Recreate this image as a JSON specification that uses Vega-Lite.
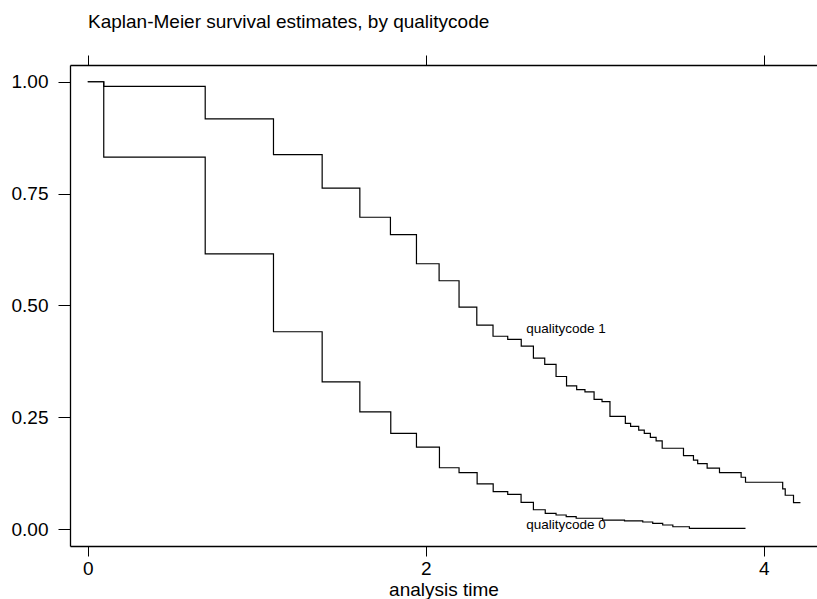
{
  "$schema": "https://vega.github.io/schema/vega-lite/v6.json",
  "width": 747,
  "height": 481,
  "autosize": {"type": "none"},
  "padding": {"left": 70, "top": 65, "right": 0, "bottom": 53},
  "background": "white",
  "config": {
    "view": {"stroke": null},
    "font": "Liberation Sans",
    "axis": {
      "grid": false,
      "domainColor": "#000000",
      "domainWidth": 1.3,
      "tickColor": "#000000",
      "tickWidth": 1,
      "labelColor": "#000000",
      "labelFont": "Liberation Sans",
      "labelFontSize": 19,
      "titleFont": "Liberation Sans",
      "titleFontSize": 19,
      "titleFontWeight": "normal",
      "titleColor": "#000000"
    }
  },
  "title": {
    "text": "Kaplan-Meier survival estimates, by qualitycode",
    "anchor": "start",
    "frame": "group",
    "font": "Liberation Sans",
    "fontSize": 19,
    "fontWeight": "normal",
    "color": "#000000",
    "dx": 18,
    "offset": 23
  },
  "datasets": {
    "km": [
      {"group": "qualitycode 0", "t": 0, "S": 1},
      {"group": "qualitycode 0", "t": 0.0947, "S": 0.8315},
      {"group": "qualitycode 0", "t": 0.695, "S": 0.615},
      {"group": "qualitycode 0", "t": 1.099, "S": 0.441},
      {"group": "qualitycode 0", "t": 1.387, "S": 0.329},
      {"group": "qualitycode 0", "t": 1.61, "S": 0.262},
      {"group": "qualitycode 0", "t": 1.793, "S": 0.214},
      {"group": "qualitycode 0", "t": 1.945, "S": 0.183},
      {"group": "qualitycode 0", "t": 2.081, "S": 0.137},
      {"group": "qualitycode 0", "t": 2.197, "S": 0.126},
      {"group": "qualitycode 0", "t": 2.304, "S": 0.1007},
      {"group": "qualitycode 0", "t": 2.399, "S": 0.0835},
      {"group": "qualitycode 0", "t": 2.485, "S": 0.0776},
      {"group": "qualitycode 0", "t": 2.564, "S": 0.0597},
      {"group": "qualitycode 0", "t": 2.637, "S": 0.043},
      {"group": "qualitycode 0", "t": 2.707, "S": 0.035},
      {"group": "qualitycode 0", "t": 2.771, "S": 0.0313},
      {"group": "qualitycode 0", "t": 2.831, "S": 0.0275},
      {"group": "qualitycode 0", "t": 2.89, "S": 0.024},
      {"group": "qualitycode 0", "t": 3.047, "S": 0.02},
      {"group": "qualitycode 0", "t": 3.176, "S": 0.018},
      {"group": "qualitycode 0", "t": 3.284, "S": 0.0157},
      {"group": "qualitycode 0", "t": 3.343, "S": 0.0128},
      {"group": "qualitycode 0", "t": 3.402, "S": 0.009},
      {"group": "qualitycode 0", "t": 3.462, "S": 0.005},
      {"group": "qualitycode 0", "t": 3.56, "S": 0.0016},
      {"group": "qualitycode 0", "t": 3.892, "S": 0.0016},
      {"group": "qualitycode 1", "t": 0, "S": 1},
      {"group": "qualitycode 1", "t": 0.0947, "S": 0.9895},
      {"group": "qualitycode 1", "t": 0.695, "S": 0.917},
      {"group": "qualitycode 1", "t": 1.099, "S": 0.837},
      {"group": "qualitycode 1", "t": 1.387, "S": 0.762},
      {"group": "qualitycode 1", "t": 1.61, "S": 0.697},
      {"group": "qualitycode 1", "t": 1.791, "S": 0.658},
      {"group": "qualitycode 1", "t": 1.945, "S": 0.593},
      {"group": "qualitycode 1", "t": 2.079, "S": 0.555},
      {"group": "qualitycode 1", "t": 2.197, "S": 0.496},
      {"group": "qualitycode 1", "t": 2.302, "S": 0.456},
      {"group": "qualitycode 1", "t": 2.398, "S": 0.431},
      {"group": "qualitycode 1", "t": 2.485, "S": 0.424},
      {"group": "qualitycode 1", "t": 2.565, "S": 0.409},
      {"group": "qualitycode 1", "t": 2.637, "S": 0.382},
      {"group": "qualitycode 1", "t": 2.704, "S": 0.368},
      {"group": "qualitycode 1", "t": 2.771, "S": 0.341},
      {"group": "qualitycode 1", "t": 2.833, "S": 0.32},
      {"group": "qualitycode 1", "t": 2.893, "S": 0.3115},
      {"group": "qualitycode 1", "t": 2.942, "S": 0.3065},
      {"group": "qualitycode 1", "t": 2.996, "S": 0.29},
      {"group": "qualitycode 1", "t": 3.043, "S": 0.285},
      {"group": "qualitycode 1", "t": 3.09, "S": 0.252},
      {"group": "qualitycode 1", "t": 3.181, "S": 0.236},
      {"group": "qualitycode 1", "t": 3.212, "S": 0.2295},
      {"group": "qualitycode 1", "t": 3.26, "S": 0.221},
      {"group": "qualitycode 1", "t": 3.293, "S": 0.214},
      {"group": "qualitycode 1", "t": 3.329, "S": 0.205},
      {"group": "qualitycode 1", "t": 3.363, "S": 0.197},
      {"group": "qualitycode 1", "t": 3.399, "S": 0.1805},
      {"group": "qualitycode 1", "t": 3.525, "S": 0.164},
      {"group": "qualitycode 1", "t": 3.584, "S": 0.154},
      {"group": "qualitycode 1", "t": 3.609, "S": 0.146},
      {"group": "qualitycode 1", "t": 3.665, "S": 0.136},
      {"group": "qualitycode 1", "t": 3.738, "S": 0.126},
      {"group": "qualitycode 1", "t": 3.866, "S": 0.1157},
      {"group": "qualitycode 1", "t": 3.892, "S": 0.1045},
      {"group": "qualitycode 1", "t": 4.112, "S": 0.0895},
      {"group": "qualitycode 1", "t": 4.127, "S": 0.0755},
      {"group": "qualitycode 1", "t": 4.176, "S": 0.059},
      {"group": "qualitycode 1", "t": 4.217, "S": 0.059}
    ],
    "labels": [
      {"label": "qualitycode 1", "t": 2.594, "S": 0.4385},
      {"label": "qualitycode 0", "t": 2.594, "S": 0.001}
    ]
  },
  "layer": [
    {
      "data": {"name": "km"},
      "mark": {"type": "line", "interpolate": "step-after", "color": "#000000", "strokeWidth": 1.2},
      "encoding": {
        "x": {
          "field": "t", "type": "quantitative",
          "scale": {"domain": [-0.105, 4.315], "nice": false, "zero": false},
          "axis": {"orient": "bottom", "values": [0, 2, 4], "title": "analysis time", "tickSize": 10, "labelPadding": 3, "titlePadding": 2, "labelFlush": false}
        },
        "y": {
          "field": "S", "type": "quantitative",
          "scale": {"domain": [-0.038, 1.0374], "nice": false, "zero": false},
          "axis": {"orient": "left", "values": [0, 0.25, 0.5, 0.75, 1], "format": ".2f", "title": null, "tickSize": 12, "labelPadding": 10, "labelFlush": false}
        },
        "detail": {"field": "group", "type": "nominal"}
      }
    },
    {
      "data": {"name": "labels"},
      "mark": {"type": "text", "align": "left", "baseline": "alphabetic", "font": "Liberation Sans", "fontSize": 13.5, "color": "#000000"},
      "encoding": {
        "x": {
          "field": "t", "type": "quantitative",
          "axis": {"orient": "top", "values": [0, 2, 4], "labels": false, "title": null, "tickSize": 10}
        },
        "y": {"field": "S", "type": "quantitative"},
        "text": {"field": "label", "type": "nominal"}
      }
    }
  ],
  "resolve": {"axis": {"x": "independent"}}
}
